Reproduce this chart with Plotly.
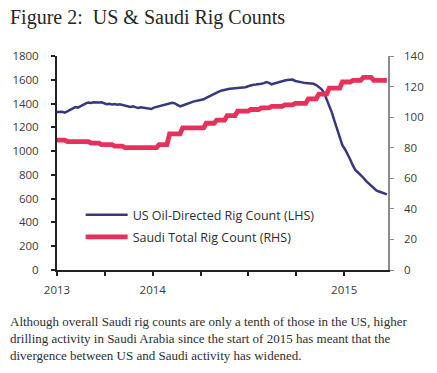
import pandas as pd
import plotly.graph_objects as go

# ---------------- data ----------------
us_dates = pd.date_range("2013-01-04", periods=127, freq="7D")
us_oil_rigs = [
    1328, 1332, 1330, 1324, 1334, 1345, 1358, 1370, 1366, 1380,
    1390, 1402, 1408, 1405, 1410, 1406, 1408, 1410, 1404, 1394,
    1398, 1392, 1396, 1390, 1394, 1388, 1386, 1378, 1372, 1376,
    1368, 1362, 1368, 1364, 1360, 1362, 1354, 1366, 1372, 1378,
    1385, 1390, 1398, 1400, 1406, 1402, 1388, 1376, 1384, 1394,
    1400, 1408, 1416, 1420, 1424, 1430, 1436, 1448, 1460, 1472,
    1482, 1494, 1502, 1510, 1516, 1520, 1524, 1526, 1528, 1530,
    1532, 1534, 1538, 1546, 1554, 1558, 1560, 1560, 1566, 1572,
    1580, 1574, 1562, 1568, 1576, 1582, 1588, 1594, 1598, 1600,
    1602, 1590, 1584, 1580, 1574, 1572, 1570, 1568, 1566, 1556,
    1542, 1522, 1490, 1436, 1380, 1324, 1252, 1180, 1110, 1050,
    1016, 976, 930, 880, 840, 820, 800, 776, 750, 728,
    706, 684, 670, 660, 652, 644, 636,
]

saudi_months = pd.date_range("2013-01-01", "2015-05-01", freq="MS")
saudi_rigs = [
    85, 84, 84, 83, 82, 81, 80, 80, 80, 82, 89, 93,
    93, 96, 98, 101, 104, 105, 106, 107, 108, 109, 112, 115,
    119, 123, 124, 126, 124,
]

x_tick_labels = ["2013", "", "2014", "", "", "", "2015"]
left_ticks = list(range(0, 1801, 200))
right_ticks = list(range(0, 141, 20))

# monthly Saudi counts held constant through each month (forward fill)
saudi_weekly = (
    pd.Series(saudi_rigs, index=saudi_months)
    .reindex(saudi_months.union(us_dates))
    .ffill()
    .reindex(us_dates)
)

x_tick_vals = [us_dates[0] + pd.Timedelta(days=128 * k) for k in range(len(x_tick_labels))]

BLUE = "#37387f"
RED = "#e6315b"
TXT = "#2e2e2e"
TICK_FONT = dict(family="Open Sans", size=11.5, color="#3a3a3a")

fig = go.Figure()
fig.add_trace(go.Scatter(
    x=us_dates, y=us_oil_rigs, mode="lines", name="US Oil-Directed Rig Count (LHS)",
    line=dict(color=BLUE, width=2.5), yaxis="y", legendgroup="a",
))
fig.add_trace(go.Scatter(
    x=us_dates, y=saudi_weekly.values, mode="lines", name="Saudi Total Rig Count (RHS)",
    line=dict(color=RED, width=4.8), yaxis="y2", legendgroup="b",
))

L, R, T, B = 52, 49, 56, 103
W, H = 437, 373
PW, PH = W - L - R, H - T - B


def px(xp):
    return (xp - L) / PW


def py(yp):
    return (H - B - yp) / PH


fig.update_layout(
    width=W, height=H,
    margin=dict(l=L, r=R, t=T, b=B),
    paper_bgcolor="white", plot_bgcolor="white",
    showlegend=True,
    legend=dict(
        x=px(76), y=py(200), xanchor="left", yanchor="top",
        bgcolor="rgba(0,0,0,0)", font=dict(family="Open Sans", size=12.5, color=TXT),
        tracegroupgap=3, itemwidth=42,
    ),
    xaxis=dict(
        type="date", range=[us_dates[0], pd.Timestamp("2015-06-08")],
        tickvals=x_tick_vals, ticktext=x_tick_labels,
        ticks="outside", ticklen=4, tickwidth=1.5, tickcolor="#222",
        showline=True, linecolor="#222", linewidth=2,
        showgrid=False, zeroline=False, tickfont=TICK_FONT, ticklabelstandoff=4,
    ),
    yaxis=dict(
        range=[0, 1800], tickvals=left_ticks,
        ticks="outside", ticklen=4, tickwidth=1.5, tickcolor="#222",
        showline=True, linecolor="#222", linewidth=2,
        showgrid=False, zeroline=False, tickfont=TICK_FONT, ticklabelstandoff=10,
    ),
    yaxis2=dict(
        range=[0, 140], tickvals=right_ticks, overlaying="y", side="right",
        ticks="outside", ticklen=4, tickwidth=1.2, tickcolor="#8a8a8a",
        showline=True, linecolor="#8a8a8a", linewidth=1.5,
        showgrid=False, zeroline=False, tickfont=TICK_FONT, ticklabelstandoff=8,
    ),
)

fig.add_annotation(
    text="Figure 2:  US &amp; Saudi Rig Counts", xref="paper", yref="paper",
    x=px(2), y=py(4), xanchor="left", yanchor="top", showarrow=False,
    font=dict(family="Liberation Serif", size=20, color="#262626"),
)
fig.add_annotation(
    text=("Although overall Saudi rig counts are only a tenth of those in the US, higher<br>"
          "drilling activity in Saudi Arabia since the start of 2015 has meant that the<br>"
          "divergence between US and Saudi activity has widened."),
    xref="paper", yref="paper", x=px(2), y=py(312), xanchor="left", yanchor="top",
    align="left", showarrow=False,
    font=dict(family="Liberation Serif", size=13, color=TXT),
)

fig.write_html(
    "out.html",
    config={"displayModeBar": False},
    post_script="document.body.style.margin='0px';",
)
